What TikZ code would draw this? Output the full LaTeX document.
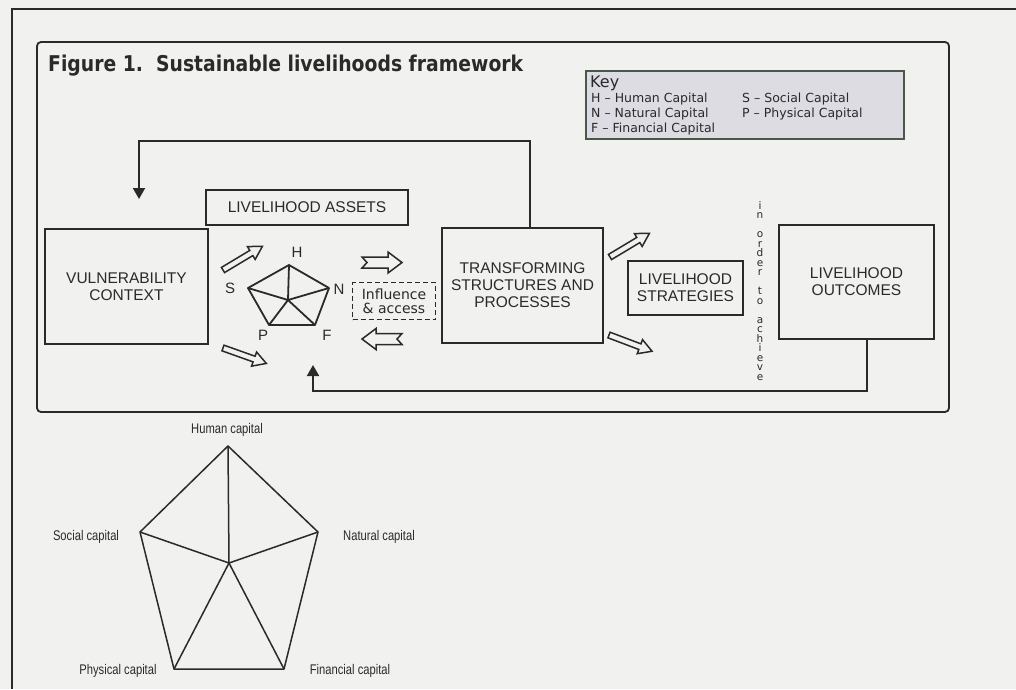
\documentclass[tikz,border=0pt]{standalone}
\usepackage{fontspec}
\usepackage{graphicx}
\usetikzlibrary{arrows.meta,calc}
\newfontfamily\boxfont{Liberation Sans}
\newfontfamily\keyfont{DejaVu Sans}
\newfontfamily\condfont[FakeStretch=0.8]{Liberation Sans}
\definecolor{ink}{HTML}{2A2A2A}
\definecolor{paper}{HTML}{F1F1EF}
\definecolor{keyfill}{HTML}{DCDCE2}
\definecolor{keyline}{HTML}{4A584A}
\begin{document}
\begin{tikzpicture}[x=1pt,y=-1pt,
  every node/.style={text=ink},
  frame/.style={draw=ink,line width=1.8pt},
  box/.style={draw=ink,line width=1.8pt,align=center,inner sep=0pt,
    font=\boxfont\fontsize{15.5}{17}\selectfont},
  fb/.style={draw=ink,line width=1.9pt,-{Triangle[width=12pt,length=11pt]}},
  hollow/.style={draw=ink,line width=1.5pt,fill=paper,line join=miter},
  pent/.style={draw=ink,line width=1.8pt,line join=round},
  bigpent/.style={draw=ink,line width=1.5pt,line join=round},
  letterlab/.style={font=\boxfont\fontsize{15}{15}\selectfont,inner sep=0pt},
  pentlab/.style={font=\condfont\fontsize{14}{14}\selectfont,inner sep=0pt},
  keytext/.style={font=\keyfont\fontsize{12.5}{12.5}\selectfont,inner sep=0pt},
  pics/thinarrow/.style={code={\path[hollow] (0pt,3pt) -- (33pt,3pt) -- (33pt,7.5pt) -- (46pt,0pt) -- (33pt,-7.5pt) -- (33pt,-3pt) -- (0pt,-3pt) -- cycle;}},
  pics/notcharrow/.style={code={\path[hollow] (0pt,5.5pt) -- (26pt,5.5pt) -- (26pt,10.5pt) -- (40pt,0pt) -- (26pt,-10.5pt) -- (26pt,-5.5pt) -- (0pt,-5.5pt) -- (5pt,0pt) -- cycle;}}
]
\useasboundingbox (0,0) rectangle (1016,689);
\fill[paper] (0,0) rectangle (1016,689);

% outer page frame
\draw[frame] (1016,9) -- (12,9) -- (12,689);
% inner rounded frame
\draw[frame,rounded corners=4pt] (37,42) rectangle (949,412);

% title
\node[anchor=base west,inner sep=0pt] (title) at (48,71)
  {\resizebox{475pt}{16.5pt}{\keyfont\bfseries Figure 1.\ \ Sustainable livelihoods framework}};

% key
\node[draw=keyline,line width=2.2pt,fill=keyfill,minimum width=318pt,minimum height=68pt,
  anchor=north west,inner sep=0pt] (key) at (585,70) {};
\node[anchor=base west,font=\keyfont\fontsize{16}{16}\selectfont,inner sep=0pt] (keyhead) at (590,87) {Key};
\node[keytext,anchor=base west] (k1) at (591,102) {H \textendash{} Human Capital};
\node[keytext,anchor=base west] (k2) at (742,102) {S \textendash{} Social Capital};
\node[keytext,anchor=base west] (k3) at (591,117) {N \textendash{} Natural Capital};
\node[keytext,anchor=base west] (k4) at (742,117) {P \textendash{} Physical Capital};
\node[keytext,anchor=base west] (k5) at (591,132) {F \textendash{} Financial Capital};

% boxes
\node[box,minimum width=202pt,minimum height=35pt] (assets) at (307,207.5) {LIVELIHOOD ASSETS};
\node[box,minimum width=163pt,minimum height=115pt] (vul) at (126.5,286.5) {VULNERABILITY\\CONTEXT};
\node[box,minimum width=161pt,minimum height=115pt] (trans) at (522.5,285.5) {TRANSFORMING\\STRUCTURES AND\\PROCESSES};
\node[box,minimum width=115pt,minimum height=54pt] (strat) at (685.5,288) {LIVELIHOOD\\STRATEGIES};
\node[box,minimum width=155pt,minimum height=114pt] (outc) at (856.5,282) {LIVELIHOOD\\OUTCOMES};
\node[draw=ink,line width=1.6pt,dashed,dash pattern=on 5pt off 3pt,minimum width=83pt,minimum height=37pt,
  align=center,inner sep=0pt,font=\keyfont\fontsize{14}{14}\selectfont] (infl) at (394,301) {Influence\\\&~access};

% in order to achieve
\node[anchor=north,align=center,inner sep=0pt,font=\keyfont\fontsize{10.5}{9.5}\selectfont] (achieve) at (760,201)
  {i\\n\\[9.5pt]o\\r\\d\\e\\r\\[9.5pt]t\\o\\[9.5pt]a\\c\\h\\i\\e\\v\\e};

% feedback loops
\coordinate (fbtip) at (139,199);
\draw[fb] ([xshift=7.5pt]trans.north) -- ++(0,-86) -| (fbtip);
\coordinate (fbtip2) at (313,365);
\draw[fb] ([xshift=10.5pt]outc.south) -- ++(0,51) -| (fbtip2);

% hollow arrows
\pic[rotate=31] at (223,270) {thinarrow};
\pic[rotate=-19.6] at (223,348) {thinarrow};
\pic[rotate=31] at (610,257) {thinarrow};
\pic[rotate=-20.7] at (609,335) {thinarrow};
\pic at (362,262.5) {notcharrow};
\pic[rotate=180] at (402,339) {notcharrow};

% small pentagon
\coordinate (pH) at (289,265);
\coordinate (pS) at (248,288);
\coordinate (pN) at (329,288);
\coordinate (pP) at (269,325);
\coordinate (pF) at (315,325);
\coordinate (pC) at (288,300);
\draw[pent] (pH) -- (pN) -- (pF) -- (pP) -- (pS) -- cycle;
\draw[pent] (pC) -- (pH) (pC) -- (pN) (pC) -- (pF) (pC) -- (pP) (pC) -- (pS);
\node[letterlab] (lH) at (297,252) {H};
\node[letterlab] (lS) at (230,288) {S};
\node[letterlab] (lN) at (339,289) {N};
\node[letterlab] (lP) at (263,335) {P};
\node[letterlab] (lF) at (327,335) {F};

% large pentagon
\coordinate (qH) at (228,446);
\coordinate (qS) at (140,532);
\coordinate (qN) at (318,532);
\coordinate (qP) at (174,669);
\coordinate (qF) at (284,669);
\coordinate (qC) at (229,563);
\draw[bigpent] (qH) -- (qN) -- (qF) -- (qP) -- (qS) -- cycle;
\draw[bigpent] (qC) -- (qH) (qC) -- (qN) (qC) -- (qF) (qC) -- (qP) (qC) -- (qS);
\node[pentlab] (tH) at (227,430) {Human capital};
\node[pentlab] (tS) at (86,537) {Social capital};
\node[pentlab] (tN) at (379,537) {Natural capital};
\node[pentlab] (tP) at (118,671) {Physical capital};
\node[pentlab] (tF) at (350,671) {Financial capital};
\end{tikzpicture}
\end{document}
